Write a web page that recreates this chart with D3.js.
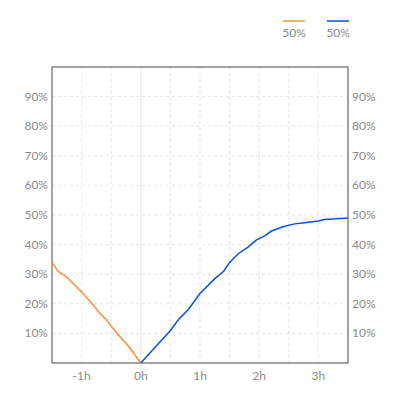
<!DOCTYPE html><html><head><meta charset="utf-8"><script src="https://cdn.jsdelivr.net/npm/d3@7"></script>
<style>body{margin:0;background:#fff}text{font-family:Lato,"Open Sans",sans-serif;font-size:12px;fill:#8a8a8a}</style></head><body>
<svg id="c" width="400" height="400"></svg>
<script>
const beforeX=[-1.5,-1.4,-1.25,-1.0,-0.8,-0.7,-0.6,-0.4,-0.2,0];
const beforeY=[34,31,29,24,19.5,17,15,10,5.5,0];
const afterX=[0,0.25,0.5,0.65,0.8,1.0,1.25,1.4,1.5,1.65,1.8,1.95,2.1,2.2,2.4,2.6,2.8,3.0,3.1,3.3,3.5];
const afterY=[0,5.5,11,15,18,23.5,28.5,31,34,37,39,41.5,43,44.5,46,47,47.5,48,48.5,48.7,49];
const xTicks=[-1,0,1,2,3];
const yTicks=[10,20,30,40,50,60,70,80,90];
const legendLabels=["50%","50%"];
const colors=["#ff8c3a","#0a4fe0"];
const svg=d3.select("#c");
const L=52,R=348,T=67,B=363;
const x=d3.scaleLinear().domain([-1.5,3.5]).range([L,R]);
const y=d3.scaleLinear().domain([0,100]).range([B,T]);
const g=svg.append("g");
d3.range(-1,3.5,0.5).forEach(v=>{g.append("line").attr("x1",x(v)).attr("x2",x(v)).attr("y1",T).attr("y2",B)
 .attr("stroke",v===0?"#e6e6e6":"#e3e3e3").attr("stroke-dasharray",v===0?null:"3,3");});
yTicks.forEach(v=>{g.append("line").attr("x1",L).attr("x2",R).attr("y1",y(v)).attr("y2",y(v)).attr("stroke","#e3e3e3").attr("stroke-dasharray","3,3");});
svg.append("rect").attr("x",L).attr("y",T).attr("width",R-L).attr("height",B-T).attr("fill","none").attr("stroke","#666").attr("stroke-width",1.2);
yTicks.forEach(v=>{
 svg.append("text").attr("x",L-4).attr("y",y(v)+4).attr("text-anchor","end").text(v+"%");
 svg.append("text").attr("x",R+4).attr("y",y(v)+4).text(v+"%");});
xTicks.forEach(v=>svg.append("text").attr("x",x(v)).attr("y",B+17).attr("text-anchor","middle").text(v+"h"));
const line=d3.line().x(d=>x(d[0])).y(d=>y(d[1]));
svg.append("path").attr("d",line(d3.zip(beforeX,beforeY))).attr("fill","none").attr("stroke",colors[0]).attr("stroke-width",1.5);
svg.append("path").attr("d",line(d3.zip(afterX,afterY))).attr("fill","none").attr("stroke",colors[1]).attr("stroke-width",1.5);
[294,338].forEach((cx,i)=>{
 svg.append("line").attr("x1",cx-11).attr("x2",cx+11).attr("y1",21).attr("y2",21).attr("stroke",colors[i]).attr("stroke-width",1.5);
 svg.append("text").attr("x",cx).attr("y",37).attr("text-anchor","middle").text(legendLabels[i]);});
</script></body></html>
